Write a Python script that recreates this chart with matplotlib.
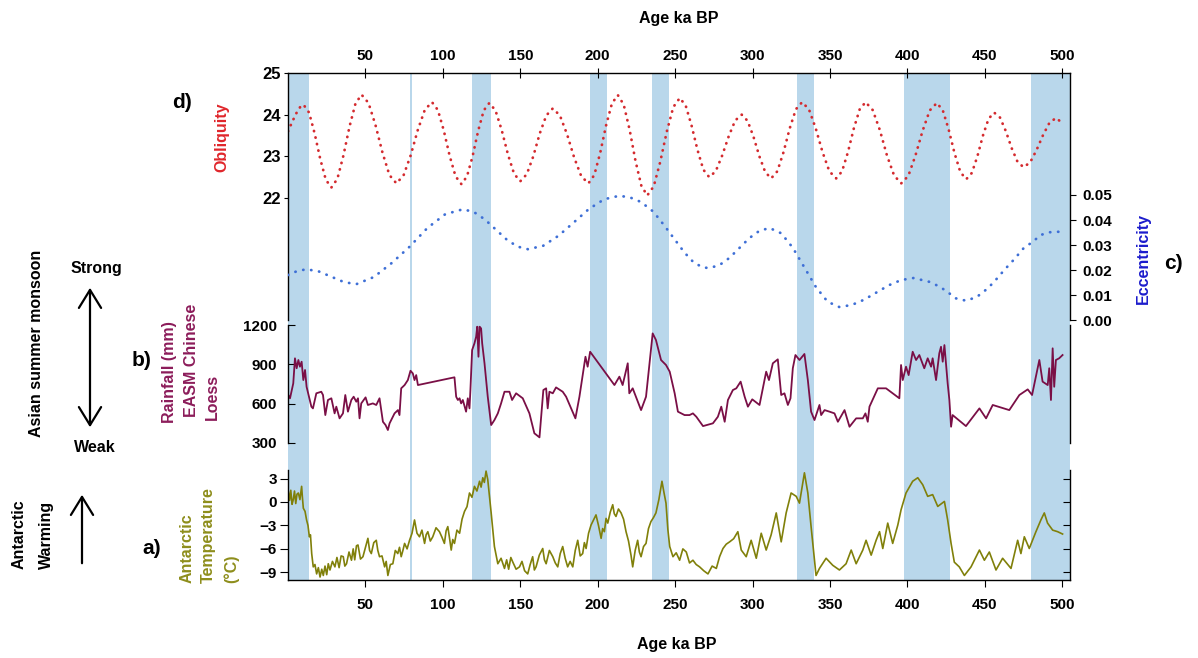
import matplotlib
matplotlib.use("Agg")
import matplotlib.pyplot as plt
from matplotlib.patches import FancyArrowPatch

plt.rcParams['font.family'] = ['Liberation Sans', 'DejaVu Sans']
plt.rcParams['font.weight'] = 'bold'
plt.rcParams['axes.linewidth'] = 1.0

# interglacial bands (ka BP)
bands = [(0, 13.5), (79, 80), (119, 131), (195, 206), (235, 246),
         (329, 340), (397.5, 427.5), (480, 505)]

# d) obliquity (degrees)
obl_age = [0, 3, 6, 8, 10, 13.6, 17.2, 20.8, 24.4, 28, 31.9, 35.8, 39.7, 43.6, 47.5,
           52, 56.5, 61, 65.5, 70, 74.6, 79.2, 83.8, 88.4, 93, 96.8, 100.6, 104.4, 108.2, 112,
           115.6, 119.2, 122.8, 126.4, 130, 134, 138, 142, 146, 150, 154.2, 158.4, 162.6, 166.8, 171,
           175.6, 180.2, 184.8, 189.4, 194, 197.8, 201.6, 205.4, 209.2, 213, 216.8, 220.6, 224.4, 228.2, 232,
           236.2, 240.4, 244.6, 248.8, 253, 256.8, 260.6, 264.4, 268.2, 272, 276.2, 280.4, 284.6, 288.8, 293,
           296.8, 300.6, 304.4, 308.2, 312, 316, 320, 324, 328, 332, 336.4, 340.8, 345.2, 349.6, 354,
           357.8, 361.6, 365.4, 369.2, 373, 377.6, 382.2, 386.8, 391.4, 396, 400.6, 405.2, 409.8, 414.4, 419,
           422.8, 426.6, 430.4, 434.2, 438, 441.6, 445.2, 448.8, 452.4, 456, 459.8, 463.6, 467.4, 471.2, 475,
           479.2, 483.4, 487.6, 491.8, 496, 500]
obl_val = [23.60, 23.85, 24.08, 24.19, 24.24, 24.05, 23.55, 22.94, 22.44, 22.25, 22.46, 23.02, 23.71, 24.27, 24.48,
           24.28, 23.75, 23.09, 22.55, 22.35, 22.54, 23.02, 23.63, 24.12, 24.30, 24.11, 23.62, 23.01, 22.52, 22.33,
           22.52, 23.00, 23.61, 24.10, 24.28, 24.10, 23.63, 23.05, 22.58, 22.40, 22.57, 23.00, 23.55, 23.98, 24.15,
           23.98, 23.53, 22.97, 22.52, 22.35, 22.55, 23.08, 23.74, 24.27, 24.47, 24.24, 23.64, 22.89, 22.29, 22.06,
           22.28, 22.87, 23.59, 24.18, 24.40, 24.22, 23.74, 23.16, 22.68, 22.50, 22.64, 23.02, 23.48, 23.86, 24.00,
           23.85, 23.47, 23.00, 22.62, 22.47, 22.64, 23.10, 23.67, 24.13, 24.30, 24.13, 23.67, 23.10, 22.64, 22.47,
           22.64, 23.10, 23.67, 24.13, 24.30, 24.11, 23.63, 23.02, 22.54, 22.35, 22.53, 23.02, 23.61, 24.10, 24.28,
           24.11, 23.65, 23.08, 22.62, 22.45, 22.60, 23.00, 23.50, 23.90, 24.05, 23.93, 23.60, 23.19, 22.86, 22.74,
           22.85, 23.15, 23.51, 23.81, 23.92, 23.80]

# c) eccentricity
ecc_age = [0, 6, 12, 20, 28, 36, 44, 55.5, 67, 78.5, 90, 101.5, 113, 120, 127, 134, 141, 148, 155,
           164.8, 174.7, 184.5, 194.3, 204.2, 214, 221, 228, 236, 243, 250, 256, 262, 268, 272,
           278.5, 285, 291.5, 298, 304.5, 311, 318.5, 326, 333.5, 341, 348.5, 356, 364, 372, 380,
           388, 396, 404, 414, 421, 427, 431, 438, 445, 452, 457, 463, 469, 475, 481, 486, 492, 497, 500]
ecc_val = [0.0180, 0.0196, 0.0203, 0.0194, 0.0173, 0.0152, 0.0143, 0.0172, 0.0228, 0.0293, 0.0368, 0.0423,
           0.0443, 0.0432, 0.0403, 0.0363, 0.0323, 0.0294, 0.0283, 0.0297, 0.0337, 0.0390, 0.0444, 0.0483,
           0.0497, 0.0490, 0.0472, 0.0433, 0.0378, 0.0320, 0.0270, 0.0230, 0.0210, 0.0208, 0.0219, 0.0248,
           0.0288, 0.0328, 0.0357, 0.0368, 0.0347, 0.0289, 0.0210, 0.0131, 0.0073, 0.0052, 0.0060, 0.0081,
           0.0110, 0.0139, 0.0160, 0.0168, 0.0153, 0.0133, 0.0107, 0.0087, 0.0077, 0.0093, 0.0127, 0.0160,
           0.0203, 0.0243, 0.0287, 0.0313, 0.0340, 0.0351, 0.0353, 0.0352]

# b) EASM rainfall from Chinese loess (mm)
rain_age = [0.2, 1.3, 3.4, 4.5, 5.6, 6.7, 7.7, 8.8, 9.9, 11, 12, 13, 15.1, 16.1, 18.3, 21.5, 22.6, 24.1,
            25.8, 28, 30.1, 31.2, 33.3, 35.5, 37, 38.7, 40.9, 42.4, 44.1, 45.2, 46.2, 47.3, 50.1, 51.6,
            54.8, 57, 59.1, 60.2, 61.3, 63, 64.5, 65.6, 68.8, 71, 72, 73.1, 75.3, 77.4, 79.1, 80.6, 81.7,
            82.8, 83.9, 107.5, 108.6, 109.7, 110.8, 111.8, 112.9, 114, 115, 116.1, 117.2, 117.8, 118.9,
            120.4, 121.5, 122.2, 123, 123.7, 124.7, 125.4, 126.9, 129, 131.2, 133.3, 135.5, 137.6, 139.8,
            143, 144.7, 147.3, 151.6, 155.9, 159.1, 162.4, 164.9, 166.7, 167.7, 168.8, 171, 173.1, 177.4,
            179.6, 185.6, 188.2, 192.1, 193.5, 195.1, 210.8, 214, 216.1, 219.4, 220.4, 222.6, 228, 231.2,
            235.5, 237.6, 240.9, 244.1, 246.5, 249.7, 251.8, 256.1, 259.3, 261.5, 263.7, 268, 274.4, 277.6,
            279.8, 282, 284.1, 287.3, 289.5, 292.3, 294.9, 297, 299.8, 304.5, 308.8, 310.6, 313.1, 316.3,
            318.5, 320.6, 322.8, 324.5, 326, 327.7, 330.3, 333.5, 335.7, 337.8, 340, 343.2, 344.3, 346.5,
            349.7, 352.9, 355.1, 359.4, 362.6, 366.9, 371.2, 372.9, 374.4, 375.5, 380.9, 386.2, 394.8,
            395.9, 397, 399.1, 400.8, 403.4, 405.6, 407.7, 410.9, 413.1, 415.3, 416.3, 418.5, 420.6, 421.7,
            422.8, 423.9, 424.9, 426, 427.1, 428.2, 429.2, 437.8, 446.5, 450.8, 455.1, 465.8, 472.3, 477.7,
            480.5, 485.2, 487.3, 490.6, 491.6, 492.7, 493.8, 494.8, 495.9, 498, 500.2]
rain_val = [666, 641, 755, 946, 870, 933, 882, 920, 780, 857, 729, 679, 577, 564, 679, 691, 666, 513,
            628, 641, 526, 577, 488, 526, 666, 539, 628, 653, 615, 641, 488, 602, 648, 590,
            602, 590, 641, 551, 462, 437, 399, 450, 526, 551, 513, 717, 742, 780, 851, 831, 780,
            818, 742, 801, 653, 628, 641, 602, 628, 582, 539, 641, 564, 704, 1009,
            1060, 1111, 1187, 958, 1187, 1174, 1060, 908, 653, 437, 475, 526, 602, 691,
            691, 628, 679, 641, 526, 374, 343, 704, 717, 564, 691, 679, 724, 691,
            653, 488, 653, 958, 882, 996, 742, 806, 742, 908, 679, 717, 551, 653,
            1136, 1086, 933, 895, 844, 679, 539, 513, 513, 526, 500, 429, 450, 500,
            577, 462, 628, 704, 717, 768, 653, 577, 633, 590, 844, 780, 908, 938,
            666, 679, 590, 641, 870, 971, 933, 979, 780, 539, 475, 590, 513, 551,
            539, 526, 462, 551, 424, 488, 488, 526, 462, 577, 717, 717, 641,
            895, 780, 882, 818, 996, 933, 971, 870, 946, 882, 946, 780, 984, 1034,
            920, 1047, 908, 755, 628, 424, 513, 429, 564, 488, 590, 551, 666, 709,
            666, 933, 768, 742, 870, 628, 1022, 729, 933, 946, 971]

# a) Antarctic temperature anomaly (deg C)
temp_age = [0.2, 1.0, 1.8, 2.6, 3.4, 4.2, 5.0, 5.8, 6.7, 7.7, 8.8, 9.3, 9.9, 11.0, 12, 12.9, 13.8, 14.5,
            15.3, 16.3, 17.4, 18.5, 19.6, 20.7, 21.8, 22.8, 23.9, 25.0, 26.0, 27.1, 28.7, 30.3, 31.6, 33.0,
            34.3, 35.7, 36.7, 37.8, 39.4, 41, 42.1, 43.1, 44.2, 45.2, 46.8, 48.4, 50.0, 51.6, 52.7, 53.8,
            55.4, 57, 58.0, 59.1, 60.7, 62.4, 63.4, 64.5, 66.1, 67.7, 69.3, 70.9, 72.0, 73.1, 74.2, 75.3,
            76.9, 78.5, 80.1, 81.7, 83.3, 84.9, 86.5, 88.2, 89.2, 90.3, 91.9, 93.5, 95.6, 97.8, 99.4, 101,
            102.1, 103.2, 104.3, 105.4, 106.4, 107.5, 109.1, 110.8, 112.4, 114, 115.6, 117.2, 118.8, 120.4,
            122.0, 123.7, 124.7, 125.8, 126.8, 127.9, 129, 131.2, 133.3, 135.5, 137.6, 139.8, 141.2, 142.5,
            143.9, 145.2, 147.3, 149.5, 151.1, 152.8, 154.8, 156.4, 158, 159.1, 160.2, 162.3, 164.5, 165.6,
            166.7, 168.8, 171, 172.6, 174.2, 175.8, 177.4, 179.0, 180.6, 182.2, 183.9, 185.5, 187.1, 188.7,
            190.3, 191.4, 192.5, 194.1, 195.7, 197.3, 198.9, 200.5, 202.2, 203.2, 204.3, 205.4, 206.5, 208.1,
            209.7, 210.7, 211.8, 213.4, 215.1, 216.7, 218.3, 219.9, 221.5, 222.6, 224.2, 225.8, 226.9, 228,
            229.6, 231.2, 232.8, 234.4, 236.0, 237.6, 239.5, 241.5, 242.8, 244.1, 245.3, 246.5, 248.6, 250.7,
            252.9, 255.0, 257.2, 259.3, 261.5, 263.6, 265.8, 268.5, 271.2, 273.9, 276.6, 278.7, 280.9, 283.0,
            285.2, 287.8, 290.5, 292.7, 295.9, 299.1, 302.4, 305.6, 308.8, 312, 315.3, 318.5, 321.7, 324.9,
            328.2, 330.3, 333.5, 335.7, 337.8, 341, 343.2, 347.5, 351.8, 356.1, 360.4, 363.7, 366.9, 371.2,
            373.3, 376.6, 379.8, 382, 384.1, 387.3, 390.5, 393.8, 395.9, 399.1, 403.4, 406.7, 409.9, 413.1,
            416.3, 419.6, 423.9, 426, 428.2, 430.3, 433.5, 436.8, 441.1, 446.5, 449.7, 452.9, 457.2, 461.5,
            466.9, 471.2, 473.3, 475.5, 478.7, 483, 486.2, 488.4, 490.5, 493.8, 497, 500.2]
temp_val = [1.36, 0.2, 1.5, -0.3, 0.29, 1.4, -0.2, 1.0, 1.15, 0.3, 2.0, 0.6, -0.8, -1.2, -2.3, -3.0, -4.45, -4.2,
            -6.6, -8.3, -8.0, -9.2, -8.4, -9.6, -8.6, -9.4, -8.2, -9.3, -7.9, -8.7, -7.6, -8.3, -7.1, -8.4,
            -6.9, -7.0, -8.2, -7.9, -6.4, -7.45, -6.0, -7.4, -5.6, -5.5, -7.3, -7.0, -5.8, -4.65, -6.2, -6.6,
            -5.2, -4.9, -6.2, -7.0, -6.9, -8.3, -7.6, -9.4, -8.0, -7.9, -6.2, -6.6, -5.8, -7.0, -6.2, -5.3,
            -6.0, -4.9, -4.0, -2.3, -4.0, -4.45, -3.6, -5.3, -4.2, -3.8, -5.0, -4.45, -3.3, -3.8, -4.5, -5.3,
            -3.7, -3.15, -4.6, -6.15, -4.8, -5.3, -3.6, -4.0, -2.2, -1.2, -0.6, 1.15, 0.6, 2.0,
            1.4, 2.65, 1.9, 3.1, 2.5, 3.95, 2.87, -1.4, -5.7, -7.9, -7.2, -8.5, -7.4, -8.6,
            -7.1, -7.7, -8.6, -8.3, -7.6, -8.8, -9.2, -8.0, -7.0, -8.7, -8.3, -6.8, -5.95, -7.4,
            -7.9, -6.2, -7.0, -7.8, -8.3, -6.6, -5.7, -7.2, -8.3, -7.6, -8.3, -6.2, -4.9, -6.9,
            -6.6, -5.2, -5.95, -4.0, -2.95, -2.3, -1.65, -3.0, -4.65, -3.4, -3.8, -2.1, -2.7, -1.3,
            -0.35, -1.5, -1.85, -0.9, -1.4, -2.2, -3.8, -5.0, -6.8, -8.3, -6.2, -4.9, -6.4, -7.0,
            -5.7, -5.3, -3.4, -2.5, -2.0, -1.4, 0.3, 2.65, 1.2, -0.15, -3.5, -5.7, -7.0, -6.5,
            -7.45, -6.0, -6.4, -7.8, -7.45, -8.0, -8.3, -8.8, -9.2, -8.2, -8.5, -7.0, -5.95, -5.4,
            -5.1, -4.7, -3.8, -6.15, -7.0, -4.9, -7.2, -4.0, -6.15, -4.2, -1.4, -5.1, -1.4, 1.15,
            0.72, -0.15, 3.73, 1.15, -3.15, -9.4, -8.5, -7.2, -8.1, -8.7, -7.9, -6.15, -7.9, -6.15,
            -4.9, -6.8, -4.9, -3.8, -5.95, -2.7, -5.3, -2.95, -1.0, 1.15, 2.65, 3.1, 2.2, 0.72,
            0.94, -0.57, 0.07, -2.3, -5.3, -7.7, -8.3, -9.4, -8.3, -6.15, -7.45, -6.4, -8.7, -7.2,
            -8.5, -4.9, -6.6, -4.45, -5.95, -3.8, -2.3, -1.4, -2.7, -3.6, -3.8, -4.1]

age_ticks = list(range(50, 501, 50))
XL = (0, 505)
W, H = 1198, 658
shade = '#b9d7eb'


# convert a pixel box (left, top, right, bottom) into figure fractions
def box(x0, y0, x1, y1):
    return [x0 / W, 1 - y1 / H, (x1 - x0) / W, (y1 - y0) / H]


def put(x, y, s, size=11.5, **kw):
    kw.setdefault('ha', 'center')
    kw.setdefault('va', 'center')
    fig.text(x / W, 1 - y / H, s, fontsize=size, fontweight='bold', **kw)


def arrow(p0, p1, style):
    a = FancyArrowPatch((p0[0] / W, 1 - p0[1] / H), (p1[0] / W, 1 - p1[1] / H),
                        transform=fig.transFigure, arrowstyle=style,
                        mutation_scale=20, lw=1.6, color='black')
    fig.add_artist(a)


fig = plt.figure(figsize=(W / 100, H / 100), dpi=100)

# shaded bands behind everything
bg = fig.add_axes(box(288, 73, 1070, 580))
bg.set_xlim(XL)
bg.axis('off')
for a, b in bands:
    bg.axvspan(a, b, color=shade, lw=0)

dots = dict(dash_capstyle='round')

# obliquity panel with the top age axis
ax_o = fig.add_axes(box(288, 73, 1070, 320))
ax_o.patch.set_alpha(0)
ax_o.plot(obl_age, obl_val, color='#d42a2e', lw=2.0, ls=(0, (0.1, 2.3)), **dots)
ax_o.set_xlim(XL)
ax_o.set_ylim(19.07, 25)
ax_o.set_yticks([22, 23, 24, 25])
ax_o.spines['right'].set_visible(False)
ax_o.spines['bottom'].set_visible(False)
ax_o.xaxis.tick_top()
ax_o.set_xticks(age_ticks)
ax_o.tick_params(axis='x', direction='inout', length=7, pad=4, labelsize=11)
ax_o.tick_params(axis='y', direction='out', length=3, pad=2, labelsize=12)

# eccentricity on the right
ax_e = ax_o.twinx()
ax_e.plot(ecc_age, ecc_val, color='#3e6fd6', lw=2.0, ls=(0, (0.1, 2.8)), **dots)
ax_e.set_xlim(XL)
ax_e.set_ylim(0, 0.0988)
ax_e.set_yticks([0, 0.01, 0.02, 0.03, 0.04, 0.05])
ax_e.set_yticklabels(['%.2f' % v for v in [0, 0.01, 0.02, 0.03, 0.04, 0.05]])
for s in ['left', 'top', 'bottom']:
    ax_e.spines[s].set_visible(False)
ax_e.tick_params(axis='y', direction='out', length=4, pad=5, labelsize=11)

# rainfall panel
ax_r = fig.add_axes(box(288, 325, 1070, 443))
ax_r.patch.set_alpha(0)
ax_r.plot(rain_age, rain_val, color='#7a0f46', lw=1.3)
ax_r.set_xlim(XL)
ax_r.set_ylim(300, 1200)
ax_r.set_yticks([300, 600, 900, 1200])
ax_r.set_xticks([])
ax_r.spines['top'].set_visible(False)
ax_r.spines['bottom'].set_visible(False)
ax_r.tick_params(axis='y', direction='in', length=5, pad=8, labelsize=11)

# antarctic temperature panel with the bottom age axis
ax_t = fig.add_axes(box(288, 470, 1070, 580))
ax_t.patch.set_alpha(0)
ax_t.plot(temp_age, temp_val, color='#80800a', lw=1.2)
ax_t.set_xlim(XL)
ax_t.set_ylim(-9.98, 4.09)
ax_t.set_yticks([-9, -6, -3, 0, 3])
ax_t.set_xticks(age_ticks)
ax_t.spines['top'].set_visible(False)
ax_t.tick_params(axis='y', direction='out', length=6, pad=2, labelsize=11)
ax_t.tick_params(axis='x', direction='out', length=5, pad=8, labelsize=11)

ax_t2 = ax_t.twinx()
ax_t2.set_ylim(-9.98, 4.09)
ax_t2.set_yticks([-9, -6, -3, 0, 3])
ax_t2.set_yticklabels([])
for s in ['left', 'top', 'bottom', 'right']:
    ax_t2.spines[s].set_visible(False)
ax_t2.tick_params(axis='y', direction='in', length=5)

# axis titles
put(679, 18, 'Age ka BP', 11.5)
put(677, 645, 'Age ka BP', 11.5)

# panel letters and series names
put(182, 103, 'd)', 15)
put(222, 137, 'Obliquity', 11.5, rotation=90, color='#e0262b')
put(1173, 264, 'c)', 15)
put(1143, 258, 'Eccentricity', 11.5, rotation=90, color='#1c1ccc')
put(142, 361, 'b)', 15)
put(170, 372, 'Rainfall (mm)', 11.5, rotation=90, color='#8c1c5a')
put(191, 360, 'EASM Chinese', 11.5, rotation=90, color='#8c1c5a')
put(212, 397, 'Loess', 11.5, rotation=90, color='#8c1c5a')
put(152, 548, 'a)', 15)
put(187, 583, 'Antarctic', 11.5, rotation=90, va='bottom', color='#8e8e1c')
put(208, 583, 'Temperature', 11.5, rotation=90, va='bottom', color='#8e8e1c')
put(231, 583, '(°C)', 11.5, rotation=90, va='bottom', color='#8e8e1c')

# left-hand annotations
put(37, 343, 'Asian summer monsoon', 11.5, rotation=90)
put(96, 268, 'Strong', 11.5)
put(95, 447, 'Weak', 11.5)
arrow((90, 430), (90, 285), '<->,head_length=0.65,head_width=0.4')
put(19, 534, 'Antarctic', 11.5, rotation=90)
put(46, 535, 'Warming', 11.5, rotation=90)
arrow((82, 566), (82, 492), '->,head_length=0.65,head_width=0.4')

fig.savefig('out.png', dpi=100)
